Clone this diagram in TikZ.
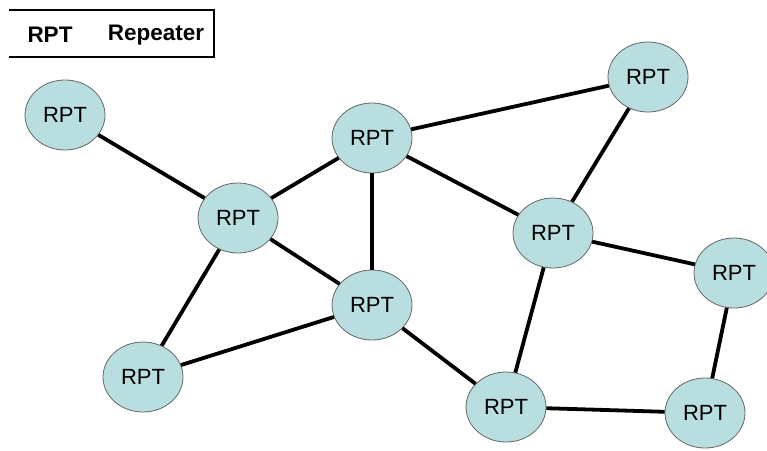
\documentclass[tikz,border=0pt]{standalone}
\usepackage{fontspec}
\setmainfont{Liberation Sans}
\usetikzlibrary{shapes.geometric}
\usetikzlibrary{graphs}
\definecolor{rptfill}{RGB}{184,222,224}

\begin{document}
\begin{tikzpicture}[x=1pt,y=-1pt,
    rpt/.style={ellipse,draw=gray!80!black,line width=0.8pt,fill=rptfill,
        minimum width=80pt,minimum height=70pt,inner sep=0pt,font=\fontsize{22}{24}\selectfont},
    link/.style={line width=3.8pt}]
    \useasboundingbox (0,0) rectangle (767,450);

    % legend
    \draw[line width=2pt] (9,10) -- (214,10) -- (214,57) -- (9,57);
    \node[font=\fontsize{22.5}{25}\selectfont\bfseries] (key) at (50,35) {RPT};
    \node[font=\fontsize{22.5}{25}\selectfont\bfseries] (keytext) at (156,35) {Repeater};

    \node[rpt] (A) at (65,115) {RPT};
    \node[rpt] (B) at (238,218) {RPT};
    \node[rpt] (C) at (372,138) {RPT};
    \node[rpt] (D) at (372,305) {RPT};
    \node[rpt] (E) at (143,377) {RPT};
    \node[rpt] (F) at (553,233) {RPT};
    \node[rpt] (G) at (648,77) {RPT};
    \node[rpt] (H) at (734,273) {RPT};
    \node[rpt] (I) at (506,407) {RPT};
    \node[rpt] (J) at (705,413) {RPT};

    \graph[use existing nodes, edges={link}] {
        A -- B -- C -- G -- F -- H -- J -- I -- F ;
        B -- D -- C -- F ;
        B -- E -- D -- I ;
    } ;
\end{tikzpicture}
\end{document}
